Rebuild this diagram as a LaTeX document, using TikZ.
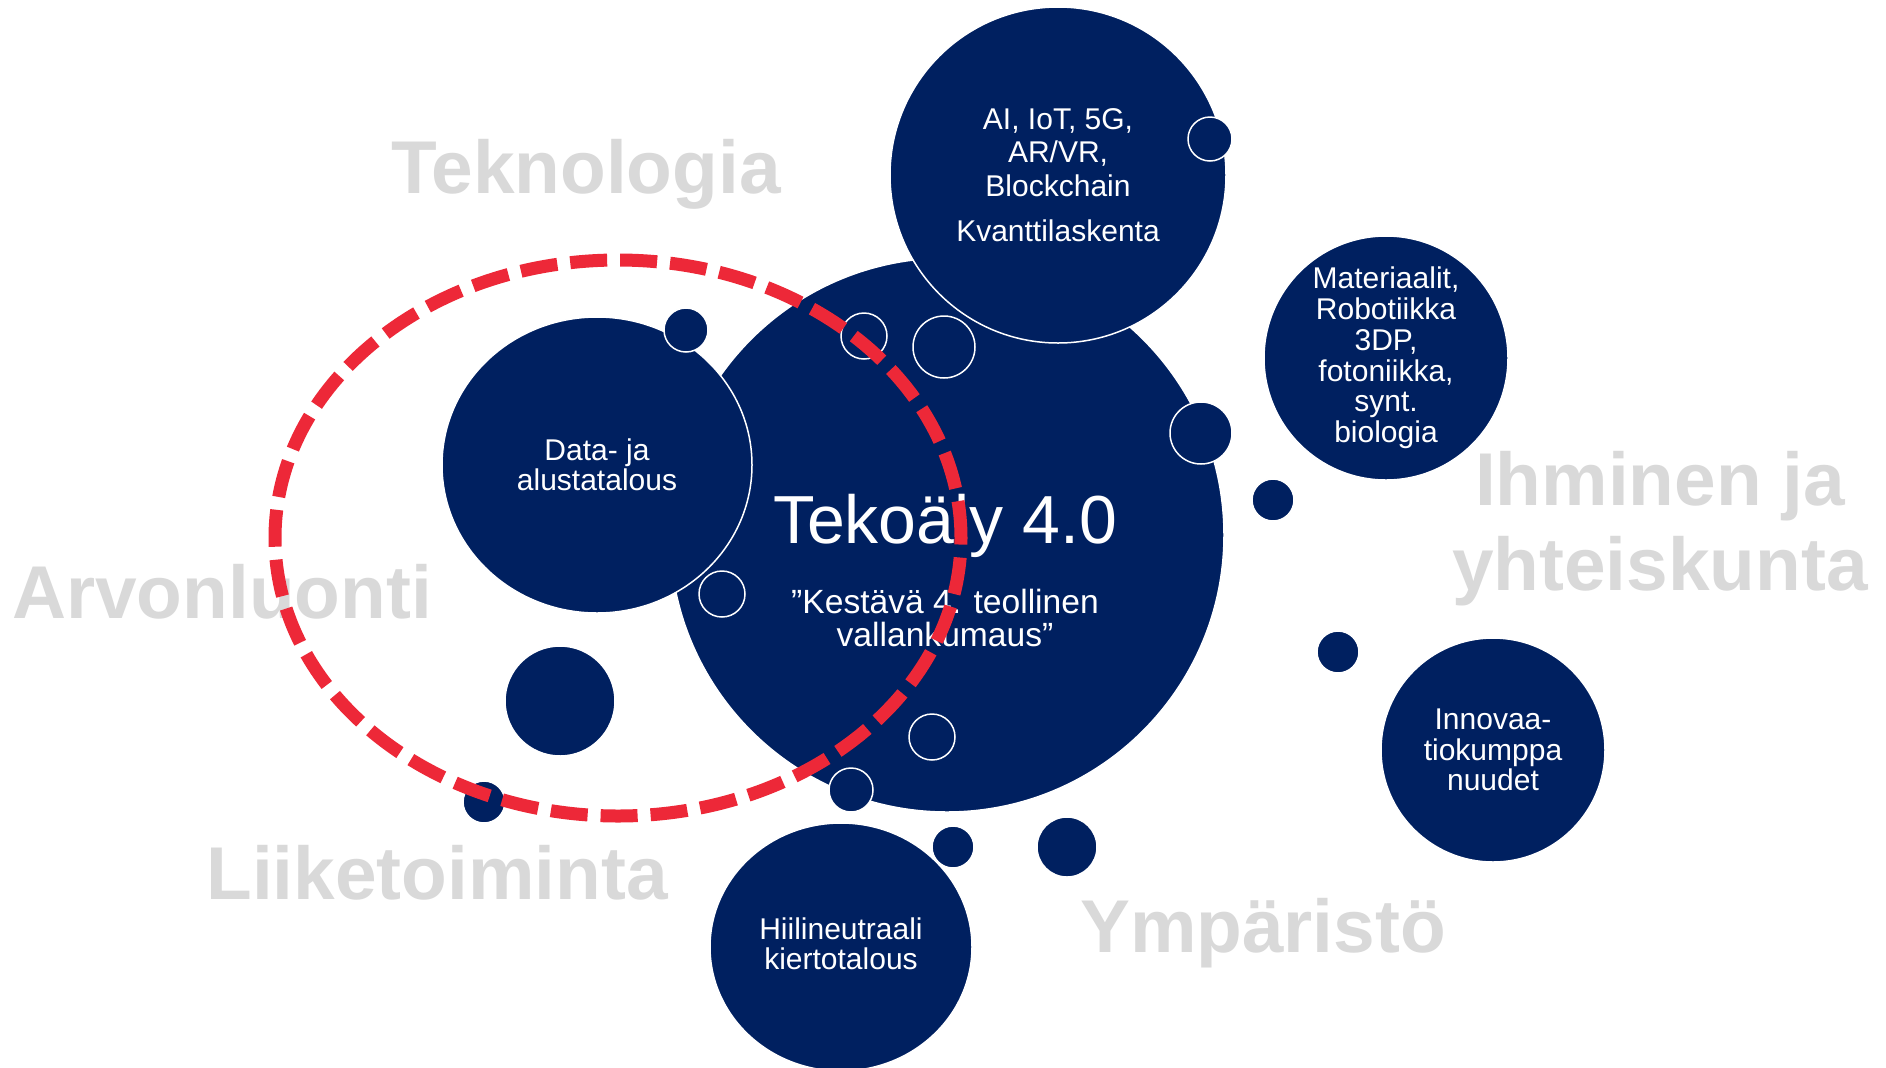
\documentclass[tikz,border=0pt]{standalone}
\usepackage{fontspec}
\setmainfont{Liberation Sans}
\usepackage{xcolor}
\definecolor{Teko-navy}{RGB}{0, 32, 96}
\definecolor{Teko-red}{RGB}{237, 40, 56}
\definecolor{Teko-grey}{RGB}{217, 217, 217}
\usepackage{tikz}
\usetikzlibrary{shapes.geometric,positioning}

\begin{document}
\begin{tikzpicture} [
    x=0.5pt, y=-0.5pt,
    bubble/.style = {circle,fill=Teko-navy,draw=white,line width=0.75pt,inner sep=0pt,text=white,align=center,font=\fontsize{15}{15.2}\selectfont},
    blob/.style = {circle,fill=Teko-navy,draw=white,line width=0.75pt,inner sep=0pt,minimum size=#1pt},
    faint/.style = {text=Teko-grey,align=center,font=\fontsize{37.4}{42.5}\selectfont\bfseries},
    ring/.style = {ellipse,draw=Teko-red,line width=6.5pt,dash pattern=on 18.5pt off 6.5pt,inner sep=0pt,minimum width=343pt,minimum height=278pt}
    ]

    \useasboundingbox[fill=white] (0,0) rectangle (1886,1067);

    \node (tek) [faint,anchor=base] at (586,193) {Teknologia};
    \node (arv) [faint,anchor=base] at (222,618) {Arvonluonti};
    \node (lii) [faint,anchor=base] at (437,899) {Liiketoiminta};
    \node (ymp) [faint,anchor=base] at (1263,952) {Ympäristö};
    \node (ihm) [faint] at (1660,529) {Ihminen ja\\yhteiskunta};

    \node (core) [bubble,minimum size=277pt] at (947,535) {};
    \node (tech) [bubble,minimum size=168pt,font=\fontsize{15}{16.75}\selectfont] at (1058,175) {AI, IoT, 5G,\\AR/VR,\\Blockchain\\[6pt]Kvanttilaskenta};
    \node (data) [bubble,ellipse,minimum width=155pt,minimum height=148pt] at (597,465) {Data- ja\\alustatalous};
    \node (mat) [bubble,minimum size=122pt,font=\fontsize{15}{15.4}\selectfont] at (1386,358) {Materiaalit,\\Robotiikka\\3DP,\\fotoniikka,\\synt.\\biologia};
    \node (inno) [bubble,minimum size=112pt] at (1493,750) {Innovaa-\\tiokumppa\\nuudet};
    \node (hiili) [bubble,ellipse,minimum width=131pt,minimum height=124pt] at (841,947) {Hiilineutraali\\kiertotalous\vphantom{g}};

    \node (title) [text=white,anchor=base,font=\fontsize{34}{40}\selectfont] at (945,543) {Tekoäly 4.0};
    \node (motto) [text=white,align=center,font=\fontsize{16.8}{16.5}\selectfont] at (945,618) {”Kestävä 4. teollinen\\vallankumaus”};

    \foreach \x/\y/\r [count=\i] in {1210/139/22, 686/330/22, 722/594/23, 864/336/23, 944/347/31, 1201/433/31, 932/737/23, 851/790/22, 953/847/21, 1273/500/21, 1338/652/21, 1067/847/30, 560/701/55, 484/802/21}
        {
            \node (blob\i) [blob=\r] at (\x,\y) {};
        }

    \node (ring) [ring] at (618,538) {};

\end{tikzpicture}
\end{document}
